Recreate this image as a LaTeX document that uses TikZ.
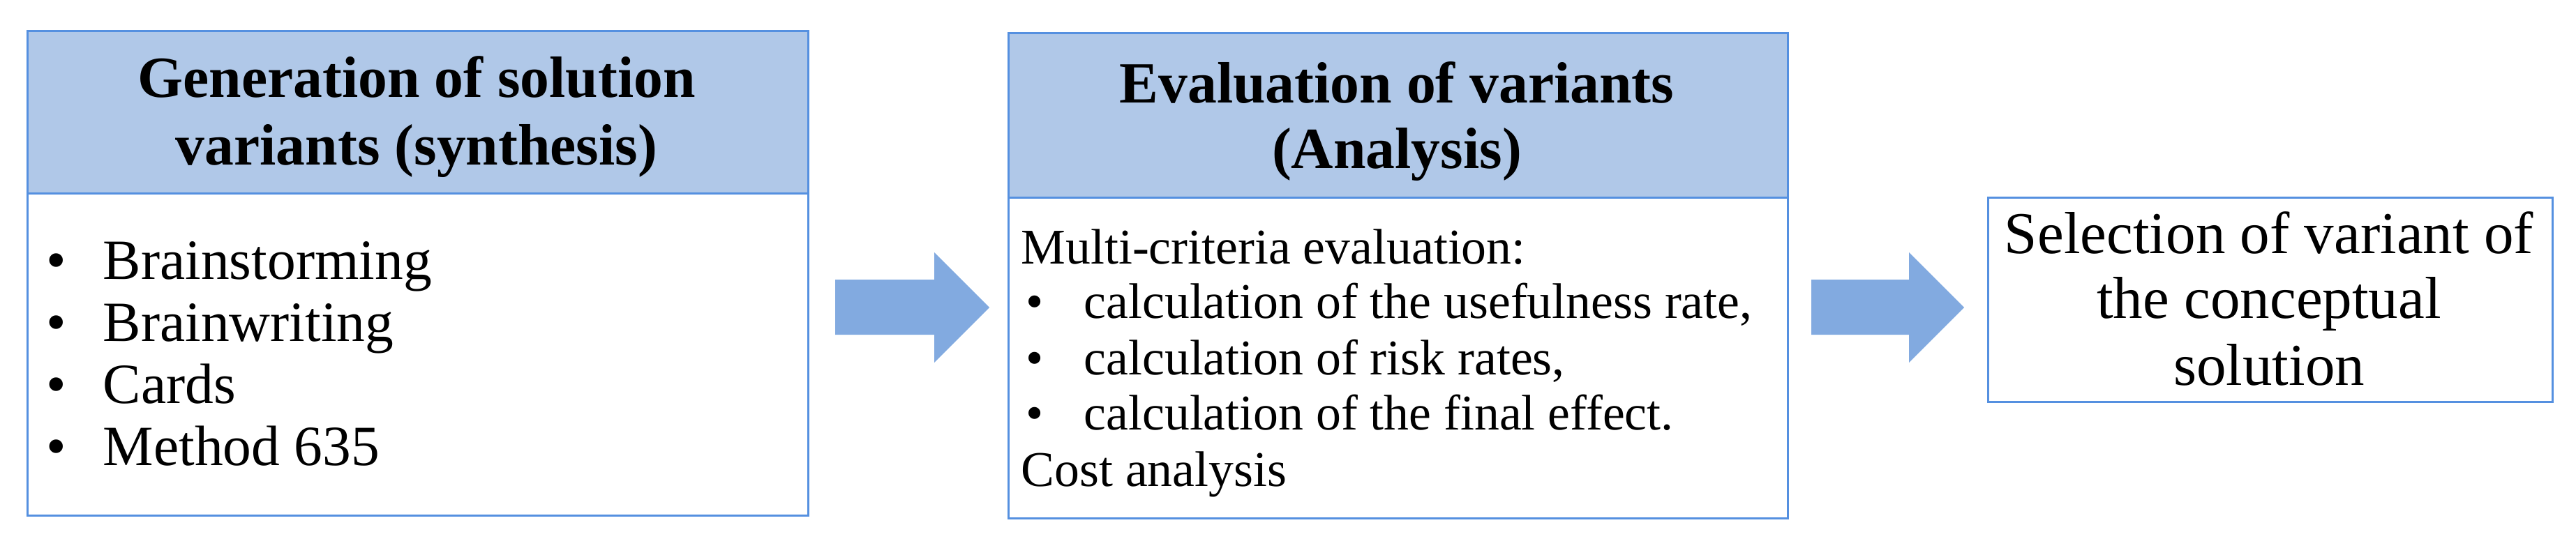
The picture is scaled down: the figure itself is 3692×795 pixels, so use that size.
\documentclass[tikz,border=0pt]{standalone}
\usepackage{fontspec}
\setmainfont{Liberation Serif}
\definecolor{bordc}{HTML}{5590E0}
\definecolor{headc}{HTML}{B0C8E8}
\definecolor{arrc}{HTML}{82AAE0}
\newcommand\ttlfont{\bfseries\fontsize{23.8}{27.6}\selectfont}
\newcommand\onefont{\fontsize{23.2}{25.3}\selectfont}
\newcommand\twofont{\fontsize{20.4}{22.8}\selectfont}
\newcommand\thrfont{\fontsize{24.2}{26.7}\selectfont}
\begin{document}
\begin{tikzpicture}[x=0.1mm,y=0.1mm,
  boxc/.style={draw=bordc,line width=0.85pt,inner sep=0pt,anchor=south west},
  headbox/.style={boxc,fill=headc},
  bodybox/.style={boxc,fill=white},
  ctxt/.style={inner sep=0pt,anchor=base},
  ltxt/.style={inner sep=0pt,anchor=base west},
  blockarrow/.style={fill=arrc}]
\useasboundingbox (0,0) rectangle (3692,795);
% box 1
\node[bodybox,minimum width=111.9mm,minimum height=69.5mm] (b1) at (38,54) {};
\node[headbox,minimum width=111.9mm,minimum height=23.3mm] (h1) at (38,516) {};
\node[ctxt,font=\ttlfont] (h1a) at (597,656) {Generation of solution};
\node[ctxt,font=\ttlfont] (h1b) at (597,559) {variants (synthesis)};
\foreach \yy/\tt [count=\i] in {395/Brainstorming,306/Brainwriting,217/Cards,128/Method 635}{
  \node[ltxt,font=\onefont] (p\i) at (66,\yy) {•};
  \node[ltxt,font=\onefont] (q\i) at (147,\yy) {\tt};
}
% box 2
\node[bodybox,minimum width=111.7mm,minimum height=69.6mm] (b2) at (1444,50) {};
\node[headbox,minimum width=111.7mm,minimum height=23.6mm] (h2) at (1444,510) {};
\node[ctxt,font=\ttlfont] (h2a) at (2002,648) {Evaluation of variants};
\node[ctxt,font=\ttlfont] (h2b) at (2002,554) {(Analysis)};
\node[ltxt,font=\twofont] (m0) at (1463,417) {Multi-criteria evaluation:};
\foreach \yy/\tt [count=\i] in {339/{calculation of the usefulness rate,},258/{calculation of risk rates,},179/{calculation of the final effect.}}{
  \node[ltxt,font=\twofont] (r\i) at (1470,\yy) {•};
  \node[ltxt,font=\twofont] (s\i) at (1553,\yy) {\tt};
}
\node[ltxt,font=\twofont] (m5) at (1463,98) {Cost analysis};
% box 3
\node[bodybox,minimum width=80.9mm,minimum height=29.3mm] (b3) at (2848,217) {};
\node[ctxt,font=\thrfont] (t1) at (3252,432) {Selection of variant of};
\node[ctxt,font=\thrfont] (t2) at (3252,339) {the conceptual};
\node[ctxt,font=\thrfont] (t3) at (3252,243) {solution};
% arrows
\fill[blockarrow] (1197,394) -- (1339,394) -- (1339,433) -- (1418,354) -- (1339,275) -- (1339,315) -- (1197,315) -- cycle;
\fill[blockarrow] (2596,394) -- (2736,394) -- (2736,433) -- (2815,354) -- (2736,275) -- (2736,315) -- (2596,315) -- cycle;
\end{tikzpicture}
\end{document}
